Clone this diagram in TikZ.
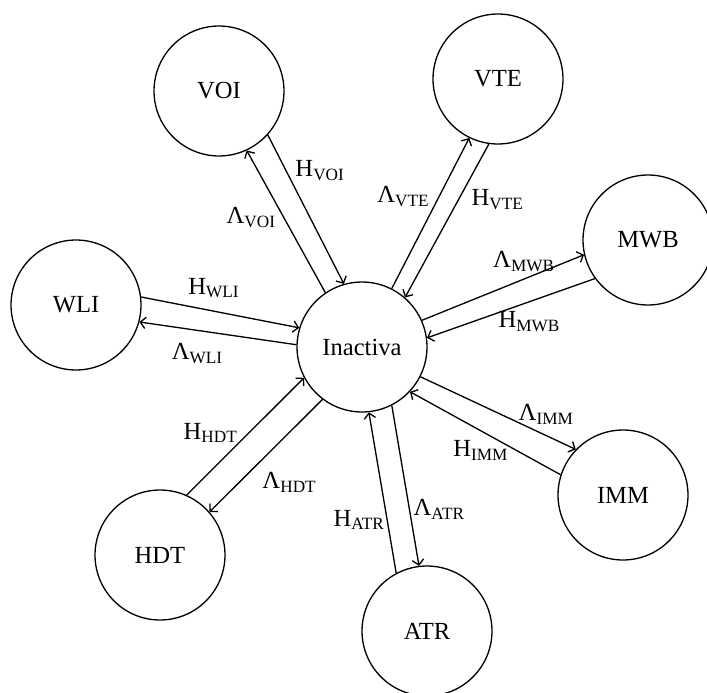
\documentclass[tikz,border=0pt]{standalone}
\usepackage{fontspec}
\setmainfont{Liberation Serif}
\usetikzlibrary{arrows.meta}
\tikzset{circ/.style={circle, draw, minimum size=2.6cm, inner sep=0pt},
  lbl/.style={inner sep=0pt}}
\newcommand{\Hs}[1]{H\textsubscript{#1}}
\newcommand{\Ls}[1]{Λ\textsubscript{#1}}

\begin{document}
\begin{tikzpicture}[x=0.02cm, y=-0.02cm, line width=0.75pt,
    font=\fontsize{14}{17}\selectfont, >={Straight Barb[length=3pt,width=6.5pt]}]
		\useasboundingbox (0,0) rectangle (707,693);
		\node[circ](inac) at (362,347){Inactiva};
		\node[circ](voi) at (219,91){VOI};
		\node[circ](vte) at (498,79){VTE};
		\node[circ](mwb) at (648,240){MWB};
		\node[circ](wli) at (76,305){WLI};
		\node[circ](imm) at (623,495){IMM};
		\node[circ](hdt) at (160,555){HDT};
		\node[circ](atr) at (427,631){ATR};
		\draw[->](voi.-42) to node[lbl, pos=.24, right=5pt]{\Hs{VOI}}(inac.106);
		\draw[->](inac.124) to node[lbl, pos=.53, left=4pt]{\Ls{VOI}}(voi.-65);
		\draw[->](inac.63) to node[lbl, pos=.61, left=5pt]{\Ls{VTE}}(vte.244);
		\draw[->](vte.-98) to node[lbl, pos=.36, right=7pt]{\Hs{VTE}}(inac.49);
		\draw[->](inac.24) to node[lbl, pos=.63, above=4pt]{\Ls{MWB}}(mwb.193);
		\draw[->](mwb.216) to node[lbl, pos=.39, below=5pt]{\Hs{MWB}}(inac.8);
		\draw[->](wli.7) to node[lbl, pos=.46, above=7pt]{\Hs{WLI}}(inac.163);
		\draw[->](inac.178) to node[lbl, pos=.63, below=7pt]{\Ls{WLI}}(wli.-15);
		\draw[->](hdt.66) to node[lbl, pos=.53, left=6pt]{\Hs{HDT}}(inac.208);
		\draw[->](inac.233) to node[lbl, pos=.59, anchor=north west, xshift=3.4pt, yshift=-3.4pt]{\Ls{HDT}}(hdt.41);
		\draw[->](inac.-27) to node[lbl, pos=.81, above=6pt]{\Ls{IMM}}(imm.136);
		\draw[->](imm.162) to node[lbl, pos=.53, below=5pt]{\Hs{IMM}}(inac.-43);
		\draw[->](inac.-63) to node[lbl, pos=.65, right=2pt]{\Ls{ATR}}(atr.97);
		\draw[->](atr.118) to node[lbl, pos=.33, left=1pt]{\Hs{ATR}}(inac.-84);
	\end{tikzpicture}
\end{document}
